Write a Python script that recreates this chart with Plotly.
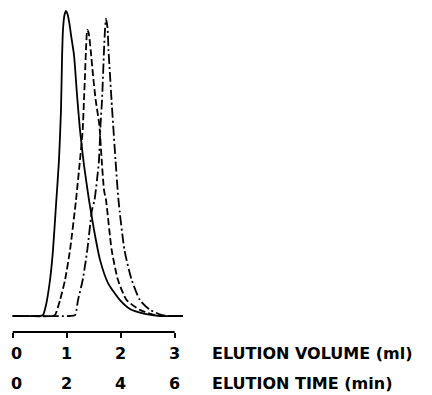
import plotly.graph_objects as go

# Elution volume (ml) and relative detector signal for the three runs
solid_vol = [0.0, 0.506, 0.561, 0.617, 0.691, 0.746, 0.802, 0.857, 0.894, 0.913, 0.931, 0.959, 0.987,
             1.015, 1.052, 1.080, 1.135, 1.191, 1.246, 1.320, 1.413, 1.506, 1.617, 1.765, 1.987,
             2.172, 2.450, 2.728, 3.154]
solid_sig = [0.0, 0.0, 0.003, 0.036, 0.118, 0.216, 0.364, 0.511, 0.675, 0.839, 0.938, 0.987, 1.0,
             0.990, 0.957, 0.921, 0.856, 0.725, 0.610, 0.495, 0.380, 0.282, 0.184, 0.108, 0.052,
             0.023, 0.007, 0.0, 0.0]

dash_vol = [0.0, 0.728, 0.783, 0.876, 0.969, 1.061, 1.172, 1.246, 1.296, 1.320, 1.339, 1.357, 1.381,
            1.407, 1.444, 1.487, 1.537, 1.604, 1.648, 1.691, 1.728, 1.833, 1.950, 2.111, 2.357,
            2.635, 2.820, 3.154]
dash_sig = [0.0, 0.0, 0.003, 0.052, 0.118, 0.216, 0.380, 0.511, 0.610, 0.708, 0.790, 0.872, 0.938,
            0.928, 0.872, 0.790, 0.708, 0.626, 0.511, 0.413, 0.380, 0.216, 0.118, 0.052, 0.020,
            0.003, 0.0, 0.0]

dot_vol = [0.0, 1.061, 1.154, 1.209, 1.296, 1.381, 1.469, 1.515, 1.561, 1.598, 1.626, 1.654, 1.691,
           1.709, 1.728, 1.756, 1.774, 1.802, 1.830, 1.904, 1.959, 2.070, 2.204, 2.357, 2.543,
           2.765, 2.950, 3.154]
dot_sig = [0.0, 0.0, 0.003, 0.052, 0.118, 0.216, 0.348, 0.380, 0.446, 0.511, 0.626, 0.708, 0.872,
           0.938, 0.974, 0.944, 0.872, 0.790, 0.708, 0.511, 0.380, 0.216, 0.118, 0.052, 0.020,
           0.003, 0.0, 0.0]

vol_ticks = [0, 1, 2, 3]
vol_labels = ["0", "1", "2", "3"]
time_labels = ["0", "2", "4", "6"]
vol_title = "ELUTION VOLUME (ml)"
time_title = "ELUTION TIME (min)"

fig = go.Figure()
for xs, ys, dash in [(solid_vol, solid_sig, "solid"),
                     (dash_vol, dash_sig, "7px,3px"),
                     (dot_vol, dot_sig, "10px,3px,2px,3px")]:
    fig.add_trace(go.Scatter(x=xs, y=ys, mode="lines",
                             line=dict(color="black", width=1.8, dash=dash, shape="spline", smoothing=0.6),
                             showlegend=False, hoverinfo="skip"))

font = dict(family="DejaVu Sans", size=16, color="black")

fig.update_xaxes(range=[-0.1426, 7.672], showgrid=False, zeroline=False, showline=False,
                 tickmode="array", tickvals=vol_ticks, ticktext=[""] * len(vol_ticks),
                 ticks="outside", ticklen=5, tickwidth=1.6, tickcolor="black")
fig.update_yaxes(range=[-0.0525, 1.0197], showgrid=False, zeroline=False, showline=False,
                 showticklabels=False, ticks="")

# axis line from 0 to 3 ml
fig.add_shape(type="line", xref="x", yref="paper", x0=vol_ticks[0], x1=vol_ticks[-1], y0=0, y1=0,
              line=dict(color="black", width=2))

for v, lab1, lab2 in zip(vol_ticks, vol_labels, time_labels):
    fig.add_annotation(x=v, xref="x", y=0, yref="paper", yshift=-21, yanchor="middle", borderpad=0,
                       text="<b>%s</b>" % lab1, showarrow=False, font=font, xshift=4 if v == 0 else 0)
    fig.add_annotation(x=v, xref="x", y=0, yref="paper", yshift=-51, yanchor="middle", borderpad=0,
                       text="<b>%s</b>" % lab2, showarrow=False, font=font, xshift=4 if v == 0 else 0)

fig.add_annotation(x=211 / 432, xref="paper", y=0, yref="paper", yshift=-21, xanchor="left",
                   yanchor="middle", borderpad=0, text="<b>%s</b>" % vol_title, showarrow=False, font=font)
fig.add_annotation(x=211 / 432, xref="paper", y=0, yref="paper", yshift=-51, xanchor="left",
                   yanchor="middle", borderpad=0, text="<b>%s</b>" % time_title, showarrow=False, font=font)

fig.update_layout(width=432, height=395, margin=dict(l=5, r=5, t=5, b=63),
                  plot_bgcolor="white", paper_bgcolor="white")

fig.write_html("out.html")
